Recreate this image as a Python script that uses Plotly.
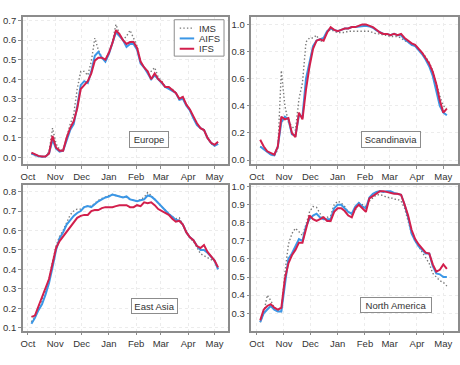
import pandas as pd
import plotly.graph_objects as go

# ---------------- data ----------------
day_offsets = list(range(4, 217, 4))  # days after 1 Oct 2022
dates = [pd.Timestamp("2022-10-01") + pd.Timedelta(days=d) for d in day_offsets]

month_ticks = ["2022-10-01", "2022-11-01", "2022-12-01", "2023-01-01",
               "2023-02-01", "2023-03-01", "2023-04-01", "2023-05-01"]
month_labels = ["Oct", "Nov", "Dec", "Jan", "Feb", "Mar", "Apr", "May"]

europe_ims = [0.02, 0.01, 0.005, 0.005, 0.005, 0.03, 0.15, 0.07, 0.04,
              0.035, 0.10, 0.17, 0.22, 0.35, 0.44, 0.44, 0.42, 0.49,
              0.61, 0.55, 0.51, 0.50, 0.54, 0.59, 0.68, 0.63, 0.60,
              0.62, 0.65, 0.61, 0.57, 0.49, 0.46, 0.44, 0.44, 0.46,
              0.41, 0.39, 0.36, 0.36, 0.35, 0.33, 0.30, 0.31, 0.27,
              0.245, 0.21, 0.17, 0.15, 0.14, 0.10, 0.07, 0.06, 0.07]
europe_aifs = [0.02, 0.012, 0.006, 0.004, 0.005, 0.02, 0.09, 0.045, 0.03,
               0.035, 0.09, 0.14, 0.17, 0.26, 0.37, 0.39, 0.38, 0.44,
               0.52, 0.54, 0.51, 0.49, 0.53, 0.58, 0.64, 0.62, 0.60,
               0.565, 0.58, 0.58, 0.55, 0.48, 0.46, 0.43, 0.40, 0.42,
               0.40, 0.38, 0.36, 0.35, 0.34, 0.33, 0.295, 0.30, 0.265,
               0.24, 0.20, 0.165, 0.15, 0.14, 0.10, 0.075, 0.06, 0.07]
europe_ifs = [0.025, 0.015, 0.008, 0.005, 0.005, 0.02, 0.11, 0.05, 0.035,
              0.035, 0.10, 0.15, 0.185, 0.25, 0.35, 0.37, 0.39, 0.43,
              0.495, 0.51, 0.51, 0.50, 0.535, 0.585, 0.65, 0.63, 0.60,
              0.58, 0.59, 0.59, 0.56, 0.49, 0.46, 0.44, 0.40, 0.43,
              0.40, 0.385, 0.36, 0.36, 0.345, 0.33, 0.30, 0.31, 0.27,
              0.245, 0.21, 0.175, 0.15, 0.14, 0.10, 0.075, 0.065, 0.08]

scand_ims = [0.10, 0.08, 0.06, 0.04, 0.03, 0.08, 0.66, 0.40, 0.28,
             0.25, 0.22, 0.45, 0.57, 0.87, 0.90, 0.90, 0.92, 0.87,
             0.89, 0.95, 0.96, 0.95, 0.94, 0.94, 0.94, 0.95, 0.95,
             0.95, 0.955, 0.955, 0.95, 0.95, 0.94, 0.93, 0.93, 0.92,
             0.92, 0.91, 0.91, 0.91, 0.90, 0.88, 0.87, 0.85, 0.84,
             0.82, 0.79, 0.76, 0.72, 0.66, 0.57, 0.47, 0.40, 0.38]
scand_aifs = [0.10, 0.08, 0.06, 0.04, 0.035, 0.10, 0.28, 0.32, 0.30,
              0.19, 0.18, 0.33, 0.32, 0.60, 0.72, 0.84, 0.88, 0.89,
              0.90, 0.95, 0.97, 0.96, 0.95, 0.96, 0.97, 0.97, 0.98,
              0.98, 0.985, 0.99, 0.99, 0.985, 0.975, 0.955, 0.94, 0.93,
              0.93, 0.92, 0.93, 0.92, 0.92, 0.89, 0.87, 0.85, 0.84,
              0.81, 0.78, 0.74, 0.69, 0.62, 0.52, 0.40, 0.35, 0.33]
scand_ifs = [0.15, 0.10, 0.065, 0.05, 0.04, 0.10, 0.32, 0.30, 0.31,
             0.20, 0.17, 0.35, 0.30, 0.52, 0.69, 0.82, 0.88, 0.89,
             0.88, 0.94, 0.98, 0.96, 0.95, 0.96, 0.97, 0.97, 0.98,
             0.98, 0.99, 1.0, 1.0, 0.99, 0.98, 0.96, 0.94, 0.93,
             0.93, 0.92, 0.93, 0.92, 0.93, 0.90, 0.88, 0.86, 0.85,
             0.82, 0.79, 0.75, 0.71, 0.65, 0.56, 0.44, 0.35, 0.38]

easia_ims = [0.13, 0.16, 0.20, 0.24, 0.29, 0.35, 0.44, 0.52, 0.57,
             0.60, 0.64, 0.68, 0.70, 0.71, 0.71, 0.72, 0.725, 0.725,
             0.74, 0.755, 0.765, 0.77, 0.78, 0.785, 0.78, 0.775, 0.77,
             0.77, 0.76, 0.755, 0.75, 0.76, 0.77, 0.795, 0.78, 0.76,
             0.74, 0.72, 0.70, 0.685, 0.67, 0.66, 0.665, 0.63, 0.59,
             0.56, 0.545, 0.51, 0.48, 0.47, 0.46, 0.45, 0.44, 0.40]
easia_aifs = [0.12, 0.15, 0.19, 0.22, 0.27, 0.33, 0.41, 0.50, 0.56,
              0.59, 0.63, 0.655, 0.675, 0.69, 0.70, 0.72, 0.725, 0.72,
              0.735, 0.75, 0.76, 0.77, 0.775, 0.785, 0.78, 0.775, 0.77,
              0.775, 0.76, 0.755, 0.75, 0.755, 0.76, 0.78, 0.775, 0.76,
              0.74, 0.72, 0.70, 0.685, 0.67, 0.655, 0.65, 0.63, 0.59,
              0.565, 0.55, 0.52, 0.50, 0.50, 0.485, 0.465, 0.445, 0.40]
easia_ifs = [0.155, 0.162, 0.21, 0.26, 0.30, 0.35, 0.43, 0.51, 0.545,
             0.57, 0.59, 0.62, 0.645, 0.665, 0.675, 0.68, 0.68, 0.70,
             0.705, 0.705, 0.715, 0.72, 0.72, 0.72, 0.725, 0.73, 0.73,
             0.73, 0.72, 0.72, 0.73, 0.725, 0.745, 0.74, 0.745, 0.73,
             0.71, 0.70, 0.69, 0.68, 0.66, 0.645, 0.65, 0.63, 0.59,
             0.565, 0.55, 0.52, 0.51, 0.525, 0.49, 0.47, 0.445, 0.41]

namer_ims = [0.25, 0.30, 0.40, 0.37, 0.33, 0.32, 0.31, 0.52, 0.68,
             0.74, 0.77, 0.75, 0.73, 0.79, 0.86, 0.89, 0.885, 0.85,
             0.82, 0.83, 0.84, 0.90, 0.92, 0.91, 0.89, 0.86, 0.845,
             0.87, 0.91, 0.90, 0.89, 0.92, 0.94, 0.955, 0.955, 0.95,
             0.94, 0.94, 0.93, 0.93, 0.92, 0.88, 0.81, 0.74, 0.70,
             0.67, 0.64, 0.61, 0.575, 0.52, 0.50, 0.48, 0.47, 0.45]
namer_aifs = [0.25, 0.30, 0.32, 0.34, 0.32, 0.31, 0.31, 0.47, 0.60,
              0.63, 0.67, 0.71, 0.70, 0.78, 0.82, 0.84, 0.85, 0.83,
              0.82, 0.82, 0.82, 0.88, 0.90, 0.90, 0.88, 0.86, 0.85,
              0.89, 0.91, 0.89, 0.88, 0.94, 0.96, 0.97, 0.975, 0.97,
              0.975, 0.975, 0.965, 0.96, 0.955, 0.90, 0.83, 0.74, 0.70,
              0.67, 0.65, 0.63, 0.63, 0.56, 0.52, 0.515, 0.50, 0.50]
namer_ifs = [0.26, 0.32, 0.34, 0.35, 0.33, 0.32, 0.33, 0.49, 0.575,
             0.62, 0.65, 0.69, 0.69, 0.77, 0.84, 0.82, 0.81, 0.82,
             0.83, 0.81, 0.81, 0.86, 0.88, 0.88, 0.865, 0.84, 0.83,
             0.88, 0.90, 0.88, 0.86, 0.935, 0.95, 0.96, 0.975, 0.975,
             0.97, 0.965, 0.96, 0.96, 0.955, 0.90, 0.84, 0.76, 0.71,
             0.68, 0.655, 0.635, 0.63, 0.57, 0.53, 0.54, 0.57, 0.545]

region_names = ["Europe", "Scandinavia", "East Asia", "North America"]
series_names = ["IMS", "AIFS", "IFS"]

# ---------------- styling / layout ----------------
W, H = 460, 365
FONT = "Liberation Sans, Arial, Helvetica, sans-serif"
TXT = "#333333"
FRAME = "#8c8c8c"
GRID = "#ececec"
COLORS = {"IMS": "#7a7a7a", "AIFS": "#3b97e6", "IFS": "#d21f4c"}
DOT = "1.4px,2.2px"


def px_x(x):
    return x / W


def px_y(y):
    return 1 - y / H


panels = [
    dict(name=region_names[0], data=[europe_ims, europe_aifs, europe_ifs],
         xdom=(21, 226.5), ydom=(13, 163),
         xr=("2022-09-25 08:00", "2023-05-15 17:00"),
         yr=(-0.035, 0.719), yt=[0.0, 0.1, 0.2, 0.3, 0.4, 0.5, 0.6, 0.7],
         box=(148, 138, 34, 11)),
    dict(name=region_names[1], data=[scand_ims, scand_aifs, scand_ifs],
         xdom=(250.5, 458.3), ydom=(13, 163),
         xr=("2022-09-25 00:00", "2023-05-18 00:00"),
         yr=(-0.031, 1.056), yt=[0.0, 0.2, 0.4, 0.6, 0.8, 1.0],
         box=(391, 137.5, 54, 11)),
    dict(name=region_names[2], data=[easia_ims, easia_aifs, easia_ifs],
         xdom=(21, 226.5), ydom=(184, 332),
         xr=("2022-09-25 08:00", "2023-05-15 17:00"),
         yr=(0.085, 0.834), yt=[0.1, 0.2, 0.3, 0.4, 0.5, 0.6, 0.7, 0.8],
         box=(153.5, 307, 41, 10)),
    dict(name=region_names[3], data=[namer_ims, namer_aifs, namer_ifs],
         xdom=(250.5, 458.3), ydom=(184, 332),
         xr=("2022-09-25 00:00", "2023-05-18 00:00"),
         yr=(0.204, 1.009), yt=[0.3, 0.4, 0.5, 0.6, 0.7, 0.8, 0.9, 1.0],
         box=(396, 306.5, 66, 10)),
]

fig = go.Figure()
layout_axes = {}
annotations = []
shapes = []

for i, p in enumerate(panels):
    k = "" if i == 0 else str(i + 1)
    xa, ya = "x" + k, "y" + k
    for sname, vals in zip(series_names, p["data"]):
        if sname == "IMS":
            line = dict(color=COLORS[sname], width=1.4, dash=DOT)
        else:
            line = dict(color=COLORS[sname], width=2)
        fig.add_trace(go.Scatter(x=dates, y=vals, mode="lines", name=sname,
                                 line=line, xaxis=xa, yaxis=ya,
                                 showlegend=False, hoverinfo="skip"))
    common = dict(showline=True, mirror=True, linecolor=FRAME, linewidth=1.5,
                  ticks="outside", ticklen=3, tickcolor=FRAME, tickwidth=1,
                  showgrid=True, gridcolor=GRID, gridwidth=1, griddash="dot",
                  zeroline=False,
                  tickfont=dict(family=FONT, size=9.5, color=TXT))
    layout_axes["xaxis" + k] = dict(
        common, domain=[px_x(p["xdom"][0]), px_x(p["xdom"][1])],
        anchor=ya, type="date", range=list(p["xr"]),
        tickmode="array", tickvals=month_ticks, ticktext=month_labels)
    layout_axes["yaxis" + k] = dict(
        common, domain=[px_y(p["ydom"][1]), px_y(p["ydom"][0])],
        anchor=xa, range=list(p["yr"]),
        tickmode="array", tickvals=p["yt"],
        ticktext=[f"{v:.1f}" for v in p["yt"]])
    cx, cy, bw, bh = p["box"]
    annotations.append(dict(
        x=px_x(cx), y=px_y(cy), xref="paper", yref="paper",
        text=p["name"], showarrow=False, xanchor="center", yanchor="middle",
        font=dict(family=FONT, size=9.5, color=TXT),
        bordercolor="#8c8c8c", borderwidth=1, borderpad=2, bgcolor="white",
        width=bw, height=bh))

# custom legend inside the first panel
shapes.append(dict(type="rect", xref="paper", yref="paper",
                   x0=px_x(173), x1=px_x(223), y0=px_y(53), y1=px_y(16),
                   line=dict(color="#8c8c8c", width=1), fillcolor="white",
                   layer="above"))
for j, (sname, yy) in enumerate(zip(series_names, [24.5, 35, 45.5])):
    dash = DOT if sname == "IMS" else "solid"
    w = 1.4 if sname == "IMS" else 2
    shapes.append(dict(type="line", xref="paper", yref="paper",
                       x0=px_x(178.5), x1=px_x(193), y0=px_y(yy), y1=px_y(yy),
                       line=dict(color=COLORS[sname], width=w, dash=dash),
                       layer="above"))
    annotations.append(dict(x=px_x(196), y=px_y(yy), xref="paper",
                            yref="paper", text=sname, showarrow=False,
                            xanchor="left", yanchor="middle",
                            font=dict(family=FONT, size=9.5, color=TXT)))

fig.update_layout(
    width=W, height=H, margin=dict(l=0, r=0, t=0, b=0),
    paper_bgcolor="white", plot_bgcolor="white", showlegend=False,
    annotations=annotations, shapes=shapes, **layout_axes)

fig.write_html("out.html",
               config={"displayModeBar": False},
               post_script="document.body.style.margin='0px';"
                           "document.body.style.overflow='hidden';")
